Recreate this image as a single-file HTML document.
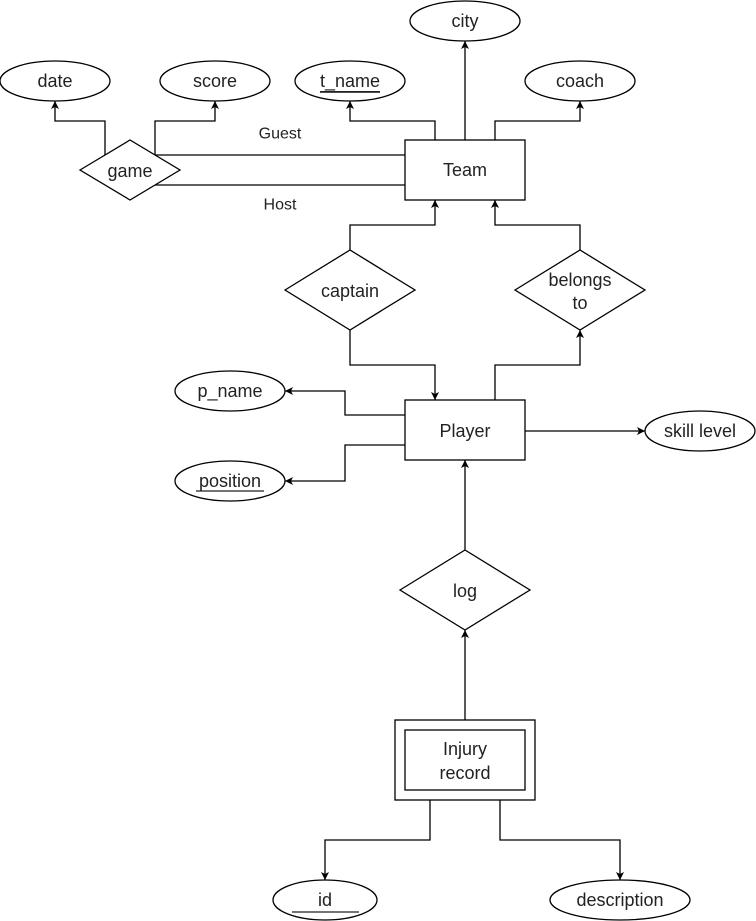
<!DOCTYPE html>
<html><head><meta charset="utf-8"><style>
html,body{margin:0;padding:0;background:#fff;}
svg{display:block;}
text{font-family:"Liberation Sans",sans-serif;font-size:18px;fill:#222;text-anchor:middle;dominant-baseline:central;}
.s{fill:none;stroke:#000;stroke-width:1.3;}
.w{fill:#fff;stroke:#000;stroke-width:1.3;}
</style></head><body>
<svg width="756" height="921" viewBox="0 0 756 921">
<defs><marker id="a" markerWidth="10" markerHeight="10" refX="9" refY="5" orient="auto" markerUnits="userSpaceOnUse"><path d="M1,1 L9,5 L1,9 L3,5 Z" fill="#000"/></marker></defs>
<path class="s" d="M105,155 V121 H55 V101" marker-end="url(#a)"/>
<path class="s" d="M155,155 V121 H215 V101" marker-end="url(#a)"/>
<path class="s" d="M435,140 V121 H350 V101" marker-end="url(#a)"/>
<path class="s" d="M465,140 V41" marker-end="url(#a)"/>
<path class="s" d="M495,140 V121 H580 V101" marker-end="url(#a)"/>
<path class="s" d="M155,155 H405"/>
<path class="s" d="M155,185 H405"/>
<path class="s" d="M350,250 V225 H435 V200" marker-end="url(#a)"/>
<path class="s" d="M580,250 V225 H495 V200" marker-end="url(#a)"/>
<path class="s" d="M350,330 V365 H435 V400" marker-end="url(#a)"/>
<path class="s" d="M495,400 V365 H580 V330" marker-end="url(#a)"/>
<path class="s" d="M405,415 H345 V391 H285" marker-end="url(#a)"/>
<path class="s" d="M405,445 H345 V481 H285" marker-end="url(#a)"/>
<path class="s" d="M525,431 H645" marker-end="url(#a)"/>
<path class="s" d="M465,550 V460" marker-end="url(#a)"/>
<path class="s" d="M465,720 V630" marker-end="url(#a)"/>
<path class="s" d="M430,800 V840 H325 V880" marker-end="url(#a)"/>
<path class="s" d="M500,800 V840 H620 V880" marker-end="url(#a)"/>
<ellipse class="w" cx="465" cy="21" rx="55" ry="20"/><text x="465" y="21">city</text>
<ellipse class="w" cx="55" cy="81" rx="55" ry="20"/><text x="55" y="81">date</text>
<ellipse class="w" cx="215" cy="81" rx="55" ry="20"/><text x="215" y="81">score</text>
<ellipse class="w" cx="350" cy="81" rx="55" ry="20"/><text x="350" y="81" text-decoration="underline">t_name</text>
<ellipse class="w" cx="580" cy="81" rx="55" ry="20"/><text x="580" y="81">coach</text>
<rect class="w" x="405" y="140" width="120" height="60"/><text x="465" y="170">Team</text>
<polygon class="w" points="80,170 130,140 180,170 130,200"/><text x="130" y="171">game</text>
<text x="280" y="134" style="font-size:16px">Guest</text>
<text x="280" y="205" style="font-size:16px">Host</text>
<polygon class="w" points="285,290 350,250 415,290 350,330"/><text x="350" y="291">captain</text>
<polygon class="w" points="515,290 580,250 645,290 580,330"/><text x="580" y="280">belongs</text><text x="580" y="303">to</text>
<rect class="w" x="405" y="400" width="120" height="60"/><text x="465" y="431">Player</text>
<ellipse class="w" cx="230" cy="391" rx="55" ry="20"/><text x="230" y="391">p_name</text>
<ellipse class="w" cx="230" cy="481" rx="55" ry="20"/><text x="230" y="481">position</text>
<line x1="196" y1="491" x2="264" y2="491" stroke="#222" stroke-width="1.3"/>
<ellipse class="w" cx="700" cy="431" rx="55" ry="20"/><text x="700" y="431">skill level</text>
<polygon class="w" points="400,590 465,550 530,590 465,630"/><text x="465" y="591">log</text>
<rect class="w" x="395" y="720" width="140" height="80"/>
<rect class="w" x="405" y="730" width="120" height="60"/>
<text x="465" y="749">Injury</text><text x="465" y="773">record</text>
<ellipse class="w" cx="325" cy="900" rx="52" ry="20"/><text x="325" y="900">id</text>
<line x1="292" y1="912" x2="359" y2="912" stroke="#222" stroke-width="1.3"/>
<ellipse class="w" cx="620" cy="900" rx="70" ry="20"/><text x="620" y="900">description</text>
</svg>
</body></html>
